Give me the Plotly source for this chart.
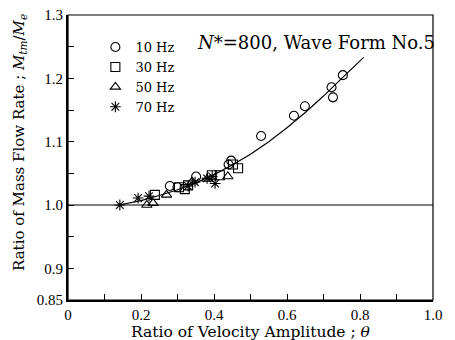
import plotly.graph_objects as go

# Data
hz10_x = [0.753, 0.722, 0.726, 0.649, 0.619, 0.529, 0.447, 0.440, 0.351, 0.279, 0.300]
hz10_y = [1.205, 1.186, 1.170, 1.156, 1.141, 1.109, 1.070, 1.064, 1.045, 1.030, 1.028]
hz30_x = [0.466, 0.452, 0.416, 0.394, 0.329, 0.304, 0.238, 0.320]
hz30_y = [1.058, 1.064, 1.047, 1.047, 1.031, 1.028, 1.016, 1.025]
hz50_x = [0.438, 0.381, 0.340, 0.270, 0.216, 0.233]
hz50_y = [1.045, 1.041, 1.037, 1.016, 1.000, 1.003]
hz70_x = [0.142, 0.192, 0.222, 0.329, 0.348, 0.381, 0.403, 0.395]
hz70_y = [1.000, 1.011, 1.014, 1.030, 1.036, 1.042, 1.034, 1.045]
curve_x = [0.14, 0.20, 0.25, 0.30, 0.35, 0.40, 0.45, 0.50, 0.55, 0.60, 0.65, 0.70, 0.75, 0.81]
curve_y = [1.000, 1.007, 1.015, 1.024, 1.035, 1.048, 1.063, 1.080, 1.100, 1.122, 1.146, 1.172, 1.200, 1.233]
x_ticks = [0, 0.2, 0.4, 0.6, 0.8, 1.0]
x_labels = ["0", "0.2", "0.4", "0.6", "0.8", "1.0"]
y_ticks = [0.85, 0.9, 1.0, 1.1, 1.2, 1.3]
y_labels = ["0.85", "0.9", "1.0", "1.1", "1.2", "1.3"]

TICKFONT = "Liberation Serif, Times New Roman, serif"
FONT = "DejaVu Serif, serif"

fig = go.Figure()
fig.add_trace(go.Scatter(x=[0, 1.0], y=[1.0, 1.0], mode="lines",
                         line=dict(color="black", width=1.2), showlegend=False, hoverinfo="skip"))
fig.add_trace(go.Scatter(x=curve_x, y=curve_y, mode="lines",
                         line=dict(color="black", width=1.2), showlegend=False))

mk = dict(color="black", size=9, line=dict(color="black", width=1.1))
fig.add_trace(go.Scatter(x=hz10_x, y=hz10_y, mode="markers", name="10 Hz",
                         marker=dict(symbol="circle-open", **mk)))
fig.add_trace(go.Scatter(x=hz30_x, y=hz30_y, mode="markers", name="30 Hz",
                         marker=dict(symbol="square-open", **mk)))
fig.add_trace(go.Scatter(x=hz50_x, y=hz50_y, mode="markers", name="50 Hz",
                         marker=dict(symbol="triangle-up-open", **mk)))
fig.add_trace(go.Scatter(x=hz70_x, y=hz70_y, mode="markers", name="70 Hz",
                         marker=dict(symbol="asterisk-open", **mk)))

# page body has an 8px margin, so the figure is 8px smaller and offset
fig.update_layout(
    width=447, height=332,
    margin=dict(l=60, r=22, t=7, b=40),
    paper_bgcolor="white", plot_bgcolor="white",
    font=dict(family=FONT, size=15, color="black"),
    legend=dict(x=0.075, y=0.94, xanchor="left", yanchor="top",
                bgcolor="rgba(0,0,0,0)", font=dict(size=13, family=FONT),
                tracegroupgap=0, itemwidth=30, borderwidth=0),
    xaxis=dict(range=[0, 1.0], tickvals=x_ticks, ticktext=x_labels,
               ticks="inside", ticklen=6, tickcolor="black", showgrid=False,
               zeroline=False, showline=True, linecolor="black", linewidth=2,
               automargin=False, ticklabeloverflow="allow",
               tickfont=dict(family=TICKFONT, size=15),
               minor=dict(dtick=0.1, ticks="inside", ticklen=6, tickcolor="black")),
    yaxis=dict(range=[0.85, 1.3], tickvals=y_ticks, ticktext=y_labels,
               ticks="inside", ticklen=6, tickcolor="black", showgrid=False,
               zeroline=False, showline=True, linecolor="black", linewidth=2,
               automargin=False, ticklabeloverflow="allow",
               tickfont=dict(family=TICKFONT, size=15),
               minor=dict(dtick=0.05, ticks="inside", ticklen=6, tickcolor="black")),
    shapes=[dict(type="rect", xref="paper", yref="paper", x0=0, y0=0, x1=1, y1=1,
                 line=dict(color="black", width=1.2))],
    annotations=[
        dict(x=0.5, y=0.905, xref="paper", yref="paper", xanchor="center", yanchor="middle",
             text="<i>N</i>*=800, Wave Form No.5", showarrow=False,
             font=dict(size=18, family=FONT)) if False else
        dict(x=0.68, y=0.905, xref="paper", yref="paper", xanchor="center", yanchor="middle",
             text="<i>N</i>*=800, Wave Form No.5", showarrow=False,
             font=dict(size=18, family=FONT)),
        dict(x=0.5, y=-0.111, xref="paper", yref="paper", xanchor="center", yanchor="middle",
             text="Ratio of Velocity Amplitude ; <i>θ</i>", showarrow=False,
             font=dict(size=15.5, family=FONT)),
        dict(x=-0.1315, y=0.551, xref="paper", yref="paper", xanchor="center", yanchor="middle",
             textangle=-90,
             text="Ratio of Mass Flow Rate ; <i>M<sub>tm</sub></i>/<i>M<sub>e</sub></i>",
             showarrow=False, font=dict(size=15, family=FONT)),
    ],
)

fig.write_html("out.html")
